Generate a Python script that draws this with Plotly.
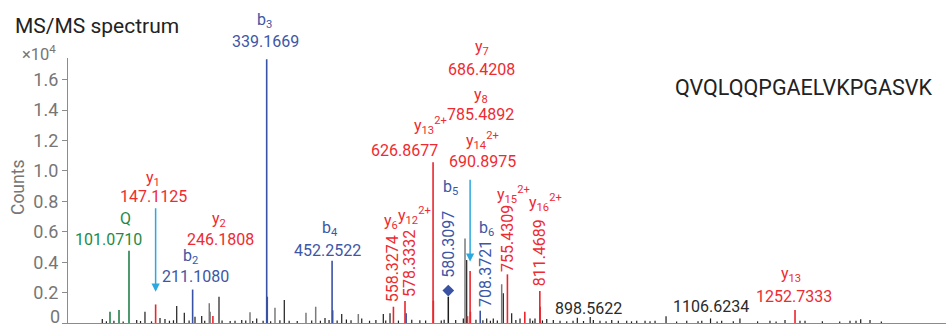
import plotly.graph_objects as go

# ---------------- spectrum data (m/z, intensity in counts) ----------------
b_mz = [211.1080, 339.1669, 340.1700, 452.2522, 453.2550, 580.3097, 708.3721]
b_int = [2200, 17350, 1730, 4100, 835, 640, 810]

y_mz = [147.1125, 246.1808, 558.3274, 578.3332, 626.8677, 627.3690, 686.4208,
        690.8975, 691.3990, 755.4309, 785.4892, 811.4689, 811.9700, 1252.7333]
y_int = [1220, 460, 1070, 1450, 10570, 1470, 450,
         3420, 740, 3200, 740, 2100, 1070, 860]

imm_mz = [68.20, 83.80, 101.0710]
imm_int = [740, 855, 4750]

precursor_mz = 653.2
precursor_int = 1730

gray_mz = [239.9, 310.3, 353.5, 407.1, 423.9, 497.6, 682.1, 745.5]
gray_int = [1300, 700, 1000, 680, 1070, 590, 5560, 2550]

black_mz = [54.9, 114.4, 128.7, 154.7, 163.3, 183.6, 196.7, 215.2, 226.8, 241.0,
            256.7, 284.4, 296.0, 321.9, 369.6, 440.0, 468.9, 503.5, 540.8, 552.4,
            679.2, 685.0, 719.6, 731.0, 748.3, 762.8, 777.2, 794.5, 803.1, 823.4,
            834.8, 846.4, 868.9, 876.3, 898.5622, 904.0, 915.5, 935.8, 947.2, 961.7,
            979.0, 993.4, 1010.7, 1029.7, 1065.5, 1091.5, 1106.6234, 1125.9, 1157.5, 1209.4,
            1235.4, 1261.3, 1270.0, 1347.8, 1358.2, 1366.3, 1382.4,
            62, 75, 91, 121, 140, 171, 178, 205, 232, 262, 276, 303, 315, 333, 346,
            362, 378, 392, 417, 432, 447, 461, 477, 485, 517, 528, 545, 567, 590, 604,
            614, 641, 646, 666, 701, 713, 726, 738, 770, 799, 816, 858, 887, 926, 970,
            1002, 1048, 1085, 1118, 1146, 1188, 1220, 1300, 1330, 1402]
black_int = [260, 200, 740, 330, 260, 1120, 680, 410, 460, 740,
             1730, 150, 200, 300, 1510, 330, 590, 300, 590, 640,
             300, 4140, 300, 300, 1950, 640, 300, 300, 300, 260,
             200, 150, 150, 350, 400, 200, 150, 200, 150, 150,
             150, 150, 150, 450, 150, 150, 300, 150, 300, 150,
             200, 150, 150, 150, 150, 250, 200,
             120, 150, 100, 130, 110, 150, 180, 170, 140, 160, 130, 170, 130, 150, 120,
             180, 140, 130, 160, 150, 200, 170, 230, 180, 150, 200, 170, 160, 220, 180,
             160, 170, 220, 200, 210, 180, 150, 170, 200, 150, 170, 120, 130, 120, 110,
             120, 100, 110, 100, 120, 110, 100, 110, 100, 100]

peptide = "QVQLQQPGAELVKPGASVK"
ytick_vals = [0, 2000, 4000, 6000, 8000, 10000, 12000, 14000, 16000]
ytick_text = ["0", "0.2", "0.4", "0.6", "0.8", "1.0", "1.2", "1.4", "1.6"]

# ---------------- styling ----------------
RED = "#e8262d"
RED_TXT = "#ee2b31"
BLUE = "#3a52a3"
BLUE_TXT = "#3d56a6"
GREEN = "#24804a"
GREEN_TXT = "#1f8a46"
BLACK = "#1c1c1c"
GRAY = "#7a7a7a"
AXIS = "#8c8c8c"
TICK_TXT = "#767676"
ARROW = "#2aa9e0"
FONT = "Roboto"

W, H = 946, 328
M_L, M_R, M_T, M_B = 68, 0, 58, 5
PLOT_H = H - M_T - M_B
X_RANGE = [-4.4, 1513.8]
Y_RANGE = [0, 17430]


def paper_y(py):
    """Screen row (px from top) -> paper fraction of the plot area."""
    return (H - M_B - py) / PLOT_H


def paper_x(px):
    return (px - M_L) / (W - M_L - M_R)


def sticks(mz, inten):
    xs, ys = [], []
    for m, v in zip(mz, inten):
        xs += [m, m, None]
        ys += [0, v, None]
    return xs, ys


fig = go.Figure()

for mz, inten, col, lw in [(black_mz, black_int, BLACK, 1.2), (gray_mz, gray_int, GRAY, 1.5),
                           ([precursor_mz], [precursor_int], BLACK, 1.5),
                           (imm_mz, imm_int, GREEN, 1.6), (b_mz, b_int, BLUE, 1.6),
                           (y_mz, y_int, RED, 1.6)]:
    xs, ys = sticks(mz, inten)
    fig.add_trace(go.Scatter(x=xs, y=ys, mode="lines",
                             line=dict(color=col, width=lw),
                             hoverinfo="skip", showlegend=False))

# precursor marker
fig.add_trace(go.Scatter(x=[precursor_mz], y=[precursor_int + 400], mode="markers",
                         marker=dict(symbol="diamond", size=9, color=BLUE),
                         hoverinfo="skip", showlegend=False))

# ---------------- peak annotations ----------------
# (m/z, ion name, name dx, name row, value dx, value row, value rotated, colour)
labels = [
    (101.0710, "Q", -3.3, 218.3, -20.7, 239.0, False, GREEN_TXT),
    (147.1125, "y<sub>1</sub>", -2.6, 178.5, -2.6, 196.0, False, RED_TXT),
    (211.1080, "b<sub>2</sub>", -2.6, 256.7, 2.4, 276.7, False, BLUE_TXT),
    (246.1808, "y<sub>2</sub>", 6.0, 219.0, 8.0, 239.0, False, RED_TXT),
    (339.1669, "b<sub>3</sub>", -2.0, 20.0, -1.0, 41.7, False, BLUE_TXT),
    (452.2522, "b<sub>4</sub>", -2.0, 228.3, -4.4, 250.0, False, BLUE_TXT),
    (558.3274, "y<sub>6</sub>", -2.0, 221.5, -1.3, 269.2, True, RED_TXT),
    (578.3332, "y<sub>12</sub><sup>2+</sup>", 9.5, 215.0, 4.7, 263.3, True, RED_TXT),
    (626.8677, "y<sub>13</sub><sup>2+</sup>", -3.0, 125.8, -29.0, 150.0, False, RED_TXT),
    (686.4208, "y<sub>7</sub>", 14.5, 47.5, 14.2, 69.3, False, RED_TXT),
    (785.4892, "y<sub>8</sub>", -44.0, 95.0, -44.0, 115.0, False, RED_TXT),
    (690.8975, "y<sub>14</sub><sup>2+</sup>", 12.0, 140.8, 12.0, 161.7, False, RED_TXT),
    (580.3097, "b<sub>5</sub>", 44.0, 187.5, 42.5, 244.2, True, BLUE_TXT),
    (708.3721, "b<sub>6</sub>", 6.0, 228.3, 5.5, 273.3, True, BLUE_TXT),
    (755.4309, "y<sub>15</sub><sup>2+</sup>", 5.6, 194.0, 0.3, 238.3, True, RED_TXT),
    (811.4689, "y<sub>16</sub><sup>2+</sup>", 6.0, 202.5, 0.0, 252.5, True, RED_TXT),
    (1252.7333, "y<sub>13</sub>", -3.7, 274.0, -1.0, 296.7, False, RED_TXT),
    (898.5622, None, 0, 0, -2.0, 308.3, False, "#2a2a2a"),
    (1106.6234, None, 0, 0, 0.0, 306.7, False, "#2a2a2a"),
]

ann = []
for mz, name, ndx, nrow, vdx, vrow, rot, col in labels:
    if name:
        ann.append(dict(x=mz, xref="x", y=paper_y(nrow), yref="paper", text=name,
                        xshift=ndx, showarrow=False, xanchor="center", yanchor="middle",
                        font=dict(family=FONT, size=16, color=col)))
    ann.append(dict(x=mz, xref="x", y=paper_y(vrow), yref="paper", text=f"{mz:.4f}",
                    xshift=vdx, showarrow=False, xanchor="center", yanchor="middle",
                    textangle=-90 if rot else 0,
                    font=dict(family=FONT, size=16, color=col)))

# pointer arrows for y1 and y14(2+)
for mz, tip_row, tail_row in [(147.1125, 291.7, 206.7), (690.8975, 261.7, 178.3)]:
    ann.append(dict(x=mz, xref="x", y=paper_y(tip_row), yref="paper", text="",
                    showarrow=True, axref="pixel", ayref="pixel", ax=0, ay=tail_row - tip_row,
                    arrowhead=2, arrowsize=1.1, arrowwidth=1.5, arrowcolor=ARROW, standoff=0))

# axis decorations, sequence
ann += [
    # zero label sits slightly above the baseline so it stays inside the figure
    dict(x=paper_x(61.5), xref="paper", y=paper_y(316.5), yref="paper", text=ytick_text[0],
         showarrow=False, xanchor="right", yanchor="middle",
         font=dict(family=FONT, size=18, color=TICK_TXT)),
    dict(x=paper_x(38.5), xref="paper", y=paper_y(53.5), yref="paper",
         text="×10<sup>4</sup>", showarrow=False, xanchor="center", yanchor="middle",
         font=dict(family=FONT, size=16.5, color=TICK_TXT)),
    dict(x=paper_x(18), xref="paper", y=paper_y(188), yref="paper", text="Counts",
         textangle=-90, showarrow=False, xanchor="center", yanchor="middle",
         font=dict(family=FONT, size=17.5, color=TICK_TXT)),
    dict(x=paper_x(933.5), xref="paper", y=paper_y(87.3), yref="paper", text=peptide,
         showarrow=False, xanchor="right", yanchor="middle",
         font=dict(family=FONT, size=21.5, color="#222222")),
]

fig.update_layout(
    width=W, height=H,
    margin=dict(l=M_L, r=M_R, t=M_T, b=M_B, pad=0),
    paper_bgcolor="white", plot_bgcolor="white",
    title=dict(text="MS/MS spectrum", x=15 / W, xanchor="left", xref="container",
               y=1 - 26 / H, yanchor="middle", yref="container",
               font=dict(family=FONT, size=21, color="#222222")),
    xaxis=dict(range=X_RANGE, showline=True, linecolor=AXIS, linewidth=1.3,
               showticklabels=False, ticks="", showgrid=False, zeroline=False),
    yaxis=dict(range=Y_RANGE, tickvals=ytick_vals, ticktext=[""] + ytick_text[1:],
               ticks="outside", ticklen=5, tickwidth=1.2, tickcolor=AXIS,
               showline=True, linecolor=AXIS, linewidth=1.3,
               showgrid=False, zeroline=False,
               tickfont=dict(family=FONT, size=18, color=TICK_TXT)),
    annotations=ann,
    showlegend=False,
)

fig.write_html("out.html")
